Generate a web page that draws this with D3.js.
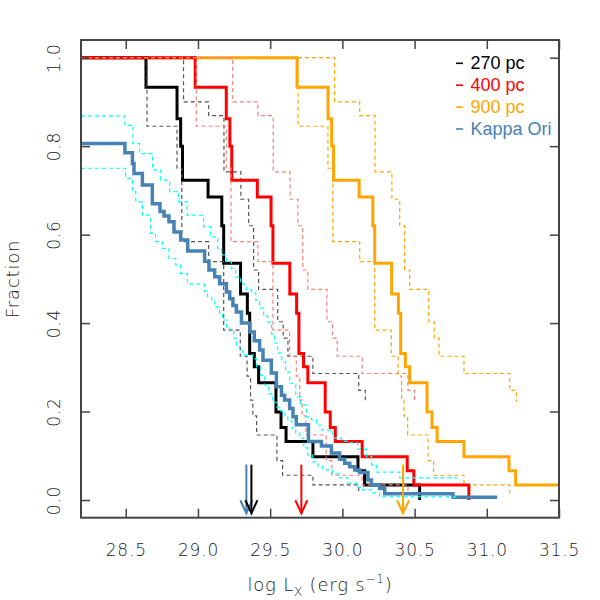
<!DOCTYPE html>
<html><head><meta charset="utf-8">
<script src="https://cdn.jsdelivr.net/npm/d3@7"></script>
<style>body{margin:0;background:#fff}</style>
</head><body>
<svg id="chart" width="600" height="600"></svg>
<script>
// ---- data ----
const xTicks = [28.5, 29.0, 29.5, 30.0, 30.5, 31.0, 31.5];
const yTicks = [0.0, 0.2, 0.4, 0.6, 0.8, 1.0];
const legendLabels = ["270 pc", "400 pc", "900 pc", "Kappa Ori"];

// [log Lx, fraction after the step]
const d270 = [[28.19,1.0],[28.640,0.933],[28.855,0.862],[28.880,0.800],[28.893,0.723],[29.070,0.685],[29.165,0.620],[29.178,0.535],[29.295,0.466],[29.342,0.422],[29.358,0.331],[29.390,0.301],[29.420,0.265],[29.540,0.199],[29.575,0.164],[29.610,0.132],[29.796,0.098],[30.108,0.066],[30.154,0.034],[30.535,0.0]];
const d270hi = [[28.19,1.0],[28.900,0.900],[29.074,0.869],[29.180,0.742],[29.297,0.680],[29.351,0.620],[29.385,0.520],[29.420,0.476],[29.552,0.403],[29.590,0.366],[29.623,0.325],[29.796,0.286],[30.113,0.248],[30.159,0.222]];
const d270lo = [[28.19,1.0],[28.647,0.845],[28.855,0.750],[28.888,0.584],[29.074,0.539],[29.178,0.384],[29.293,0.325],[29.340,0.280],[29.364,0.226],[29.380,0.190],[29.406,0.147],[29.547,0.089],[29.586,0.056],[29.796,0.034],[30.113,0.015]];

const d400 = [[28.19,1.0],[28.981,0.933],[29.196,0.862],[29.221,0.800],[29.234,0.723],[29.411,0.685],[29.506,0.620],[29.519,0.535],[29.636,0.466],[29.683,0.422],[29.699,0.331],[29.731,0.301],[29.761,0.265],[29.881,0.199],[29.916,0.164],[29.951,0.132],[30.137,0.098],[30.449,0.066],[30.495,0.034],[30.876,0.0]];
const d400hi = [[28.19,1.0],[29.241,0.900],[29.415,0.869],[29.521,0.742],[29.638,0.680],[29.692,0.620],[29.726,0.520],[29.761,0.476],[29.893,0.403],[29.931,0.366],[29.964,0.325],[30.137,0.286],[30.454,0.248],[30.500,0.222]];
const d400lo = [[28.19,1.0],[28.988,0.845],[29.196,0.750],[29.229,0.584],[29.415,0.539],[29.519,0.384],[29.634,0.325],[29.681,0.280],[29.705,0.226],[29.721,0.190],[29.747,0.147],[29.888,0.089],[29.927,0.056],[30.137,0.034],[30.454,0.015]];

const d900 = [[28.19,1.0],[29.686,0.933],[29.901,0.862],[29.926,0.800],[29.939,0.723],[30.116,0.685],[30.211,0.620],[30.224,0.535],[30.341,0.466],[30.388,0.422],[30.404,0.331],[30.436,0.301],[30.466,0.265],[30.586,0.199],[30.621,0.164],[30.656,0.132],[30.842,0.098],[31.154,0.066],[31.200,0.034],[31.50,0.034]];
const d900hi = [[28.19,1.0],[29.946,0.900],[30.120,0.869],[30.226,0.742],[30.343,0.680],[30.397,0.620],[30.431,0.520],[30.466,0.476],[30.598,0.403],[30.636,0.366],[30.669,0.325],[30.842,0.286],[31.159,0.248],[31.205,0.222]];
const d900lo = [[28.19,1.0],[29.693,0.845],[29.900,0.750],[29.934,0.584],[30.120,0.539],[30.224,0.384],[30.339,0.325],[30.386,0.280],[30.410,0.226],[30.426,0.190],[30.452,0.147],[30.593,0.089],[30.632,0.056],[30.842,0.034],[31.159,0.015]];

const dKap = [[28.19,0.806],[28.494,0.785],[28.546,0.761],[28.557,0.738],[28.615,0.712],[28.684,0.670],[28.737,0.652],[28.765,0.642],[28.799,0.629],[28.834,0.606],[28.880,0.588],[28.929,0.563],[29.046,0.540],[29.076,0.520],[29.116,0.505],[29.150,0.489],[29.197,0.470],[29.220,0.455],[29.242,0.440],[29.266,0.425],[29.301,0.400],[29.360,0.380],[29.390,0.360],[29.427,0.339],[29.450,0.316],[29.508,0.287],[29.543,0.256],[29.578,0.237],[29.600,0.226],[29.635,0.207],[29.658,0.188],[29.681,0.170],[29.765,0.132],[29.855,0.122],[29.924,0.106],[29.981,0.092],[30.016,0.083],[30.051,0.075],[30.085,0.068],[30.120,0.062],[30.177,0.045],[30.201,0.034],[30.258,0.026],[30.293,0.014],[30.766,0.006],[31.072,0.006]];
const dKapHi = [[28.19,0.868],[28.494,0.847],[28.550,0.806],[28.596,0.783],[28.686,0.746],[28.742,0.723],[28.804,0.697],[28.866,0.674],[28.925,0.644],[29.039,0.618],[29.088,0.595],[29.136,0.569],[29.164,0.554],[29.197,0.539],[29.231,0.524],[29.261,0.504],[29.296,0.488],[29.335,0.475],[29.372,0.468],[29.400,0.452],[29.427,0.434],[29.455,0.416],[29.483,0.402],[29.510,0.375],[29.531,0.355],[29.552,0.332],[29.580,0.312],[29.607,0.289],[29.635,0.264],[29.677,0.233],[29.711,0.215],[29.751,0.188],[29.787,0.181],[29.822,0.169],[29.857,0.158],[29.933,0.140],[29.995,0.133],[30.051,0.129],[30.106,0.115],[30.166,0.098],[30.203,0.079],[30.235,0.063],[30.397,0.050],[30.798,0.050]];
const dKapLo = [[28.19,0.750],[28.499,0.727],[28.546,0.697],[28.569,0.674],[28.615,0.644],[28.672,0.603],[28.707,0.584],[28.753,0.569],[28.799,0.546],[28.846,0.531],[28.880,0.512],[28.927,0.488],[29.046,0.472],[29.067,0.459],[29.095,0.450],[29.116,0.436],[29.150,0.420],[29.171,0.407],[29.197,0.391],[29.220,0.382],[29.248,0.366],[29.268,0.350],[29.289,0.339],[29.310,0.328],[29.379,0.319],[29.407,0.301],[29.435,0.282],[29.463,0.260],[29.490,0.240],[29.518,0.221],[29.546,0.210],[29.574,0.201],[29.601,0.188],[29.622,0.179],[29.650,0.163],[29.677,0.151],[29.705,0.140],[29.733,0.118],[29.760,0.102],[29.795,0.086],[29.830,0.077],[29.864,0.068],[29.933,0.059],[29.981,0.050],[30.037,0.038],[30.099,0.029],[30.141,0.023],[30.203,0.016],[30.258,0.007],[30.789,0.007]];

// median markers (log Lx)
const medianX = [29.335, 29.370, 29.716, 30.420];
const medianColors = ["#4682B4", "#000000", "#FF0000", "#FFA500"];
const seriesColors = ["#000000", "#FF0000", "#FFA500", "#4682B4"];

// ---- chart ----
const svg = d3.select("#chart");
const L = 81, R = 559, T = 40, B = 517.7;
const x = d3.scaleLinear().domain([28.19, 31.5]).range([L, R]);
const y = d3.scaleLinear().domain([-0.04, 1.04]).range([B, T]);
const line = d3.line().x(d => x(d[0])).y(d => y(d[1])).curve(d3.curveStepAfter);

svg.append("defs").append("clipPath").attr("id", "clip")
  .append("rect").attr("x", L).attr("y", T).attr("width", R - L).attr("height", B - T);
const plot = svg.append("g").attr("clip-path", "url(#clip)");

function draw(data, color, w, dash) {
  plot.append("path").datum(data).attr("d", line)
    .attr("fill", "none").attr("stroke", color).attr("stroke-width", w)
    .attr("stroke-dasharray", dash || null).attr("stroke-linejoin", "miter");
}
const DASH = "4,3";
draw(d900, "#FFA500", 3);
draw(d900hi, "#FFA500", 1.2, DASH);
draw(d900lo, "#FFA500", 1.2, DASH);
draw(d270, "#000000", 3);
draw(d270hi, "#555555", 1.2, DASH);
draw(d270lo, "#555555", 1.2, DASH);
draw(d400, "#FF0000", 3);
draw(d400hi, "#FA8072", 1.2, DASH);
draw(d400lo, "#FA8072", 1.2, DASH);
draw(dKap, "#4682B4", 3.5);
draw(dKapHi, "#00FFFF", 1.2, DASH);
draw(dKapLo, "#00FFFF", 1.2, DASH);

// median arrows
medianX.forEach((m, i) => {
  const g = svg.append("g").attr("stroke", medianColors[i]).attr("stroke-width", 2).attr("fill", "none");
  const xp = x(m), y0 = y(0.08), y1 = y(-0.03);
  g.append("line").attr("x1", xp).attr("x2", xp).attr("y1", y0).attr("y2", y1);
  g.append("path").attr("d", `M${xp - 6},${y1 - 13}L${xp},${y1}L${xp + 6},${y1 - 13}`);
});

// axes
const tickFont = "'DejaVu Sans ExtraLight', 'DejaVu Sans', sans-serif";
const gB = svg.append("g").attr("transform", `translate(0,${B})`)
  .call(d3.axisBottom(x).tickValues(xTicks).tickFormat(d3.format(".1f")).tickSizeInner(-9).tickSizeOuter(0).tickPadding(26));
const gT = svg.append("g").attr("transform", `translate(0,${T})`)
  .call(d3.axisTop(x).tickValues(xTicks).tickFormat("").tickSizeInner(-9).tickSizeOuter(0));
const gL = svg.append("g").attr("transform", `translate(${L},0)`)
  .call(d3.axisLeft(y).tickValues(yTicks).tickFormat(d3.format(".1f")).tickSizeInner(-9).tickSizeOuter(0));
const gR = svg.append("g").attr("transform", `translate(${R},0)`)
  .call(d3.axisRight(y).tickValues(yTicks).tickFormat("").tickSizeInner(-9).tickSizeOuter(0));
[gB, gT, gL, gR].forEach(g => {
  g.select(".domain").remove();
  g.selectAll(".tick line").attr("stroke", "#444").attr("stroke-width", 1.5);
  g.selectAll("text").attr("fill", "#222").style("font-family", tickFont)
    .style("font-weight", "200").style("font-size", "17px").style("letter-spacing", "0.8px");
});
gL.selectAll(".tick text").attr("x", 0).attr("y", 0).attr("dy", 0)
  .attr("text-anchor", "middle").attr("transform", "translate(-21,0) rotate(-90)");

svg.append("rect").attr("x", L).attr("y", T).attr("width", R - L).attr("height", B - T)
  .attr("fill", "none").attr("stroke", "#444").attr("stroke-width", 2);

// titles
svg.append("text").attr("transform", `translate(19,${(T + B) / 2}) rotate(-90)`)
  .attr("text-anchor", "middle").attr("fill", "#222")
  .style("font-family", tickFont).style("font-weight", "200").style("letter-spacing", "0.8px")
  .style("font-size", "18px").text("Fraction");
const xt = svg.append("text").attr("x", (L + R) / 2).attr("y", 591).attr("text-anchor", "middle")
  .attr("fill", "#222").style("font-family", tickFont).style("font-weight", "200")
  .style("letter-spacing", "0.8px").style("font-size", "18px");
xt.append("tspan").text("log L");
xt.append("tspan").attr("dy", 5).style("font-size", "12px").text("X");
xt.append("tspan").attr("dy", -5).text(" (erg s");
xt.append("tspan").attr("dy", -8).style("font-size", "12px").text("\u22121");
xt.append("tspan").attr("dy", 8).text(")");

// legend
legendLabels.forEach((lab, i) => {
  const yy = 69.3 + i * 21.9;
  svg.append("line").attr("x1", 456).attr("x2", 463).attr("y1", yy - 6).attr("y2", yy - 6)
    .attr("stroke", seriesColors[i]).attr("stroke-width", 1.6);
  svg.append("text").attr("x", 470.5).attr("y", yy).attr("fill", seriesColors[i])
    .style("font-family", "'Liberation Sans', Arial, sans-serif").style("font-size", "18px").text(lab);
});
</script>
</body></html>
